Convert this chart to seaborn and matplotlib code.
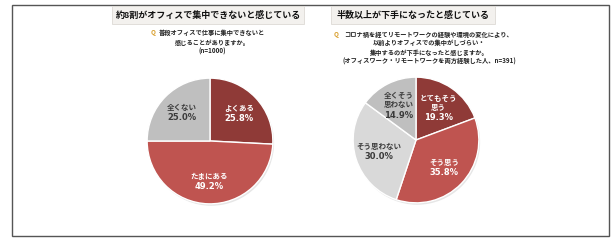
import matplotlib
matplotlib.use("Agg")
import matplotlib.pyplot as plt
from matplotlib.patches import Rectangle
import numpy as np
import seaborn as sns

sns.set_theme(style="white")
plt.rcParams['font.family'] = ['Noto Sans CJK JP', 'DejaVu Sans']

# ---- data ----
left_title = "約8割がオフィスで集中できないと感じている"
left_question = ["普段オフィスで仕事に集中できないと", "感じることがありますか。", "(n=1000)"]
left_labels = ["よくある", "たまにある", "全くない"]
left_values = [25.8, 49.2, 25.0]

right_title = "半数以上が下手になったと感じている"
right_question = ["コロナ禍を経てリモートワークの経験や環境の変化により、",
                  "以前よりオフィスでの集中がしづらい・",
                  "集中するのが下手になったと感じますか。",
                  "(オフィスワーク・リモートワークを両方経験した人、n=391)"]
right_labels = ["とてもそう\n思う", "そう思う", "そう思わない", "全くそう\n思わない"]
right_values = [19.3, 35.8, 30.0, 14.9]

DARK = "#8f3a37"
RED = "#bf5450"
GRAY = "#bfbfbf"
LIGHT = "#d9d9d9"
left_colors = [DARK, RED, GRAY]
right_colors = [DARK, RED, LIGHT, GRAY]
left_text = ["white", "white", "#3a3a3a"]
right_text = ["white", "white", "#3a3a3a", "#3a3a3a"]

W, H = 615, 243
fig = plt.figure(figsize=(W / 100, H / 100), dpi=100)
fig.patch.set_facecolor("white")


def px_rect(x0, y0, x1, y1):
    return [x0 / W, 1 - y1 / H, (x1 - x0) / W, (y1 - y0) / H]


# outer frame
fig.patches.append(Rectangle((12 / W, 1 - 236 / H), 597 / W, 231 / H, transform=fig.transFigure,
                             fill=False, edgecolor="#555555", linewidth=1.0, zorder=0))


def title_box(x0, x1, text):
    fig.patches.append(Rectangle((x0 / W, 1 - 24 / H), (x1 - x0) / W, 18 / H, transform=fig.transFigure,
                                 facecolor="#f3f1ee", edgecolor="#dddad5", linewidth=0.6))
    fig.text((x0 + x1) / 2 / W, 1 - 15 / H, text, ha="center", va="center",
             fontsize=6.5, fontweight="bold", color="#111111")


def question(cx, y0, lines):
    for i, ln in enumerate(lines):
        fig.text(cx / W, 1 - (y0 + 9 * i) / H, ln, ha="center", va="center",
                 fontsize=4.5, fontweight="bold", color="#222222")


title_box(112, 304, left_title)
title_box(331, 495, right_title)
question(212, 33, left_question)
fig.text(153 / W, 1 - 33 / H, "Q", ha="center", va="center", fontsize=4.6,
         fontweight="bold", color="#d9a030")
question(429, 34, right_question)
fig.text(336 / W, 1 - 34 / H, "Q", ha="center", va="center", fontsize=4.6,
         fontweight="bold", color="#d9a030")

LINE = 7.2  # points per text line


def draw_pie(cx, cy, r, values, labels, colors, tcolors, dist):
    ax = fig.add_axes(px_rect(cx - r, cy - r, cx + r, cy + r))
    ax.set_axis_off()
    # soft shadow
    ax.pie([1], radius=1.0, center=(0.02, -0.03), colors=["#e6e6e6"],
           wedgeprops=dict(linewidth=0))
    wedges, _ = ax.pie(values, startangle=90, counterclock=False, colors=colors,
                       radius=1.0, wedgeprops=dict(edgecolor="white", linewidth=1.0))
    for w, lab, v, tc in zip(wedges, labels, values, tcolors):
        ang = np.deg2rad((w.theta1 + w.theta2) / 2)
        pos = (dist * np.cos(ang), dist * np.sin(ang))
        n = lab.count("\n") + 1
        ax.annotate(lab, pos, xytext=(0, LINE / 2), textcoords="offset points",
                    ha="center", va="center", fontsize=5.4, fontweight="bold",
                    color=tc, linespacing=1.25)
        ax.annotate(f"{v:.1f}%", pos, xytext=(0, -n * LINE / 2), textcoords="offset points",
                    ha="center", va="center", fontsize=6.0, fontweight="bold",
                    color=tc, family=["DejaVu Sans"])
    ax.set_xlim(-1.05, 1.05)
    ax.set_ylim(-1.05, 1.05)
    ax.set_aspect("equal")


draw_pie(210, 141, 66, left_values, left_labels, left_colors, left_text, 0.64)
draw_pie(416, 140, 66, right_values, right_labels, right_colors, right_text, 0.62)

fig.savefig("out.png", dpi=100, facecolor="white")
